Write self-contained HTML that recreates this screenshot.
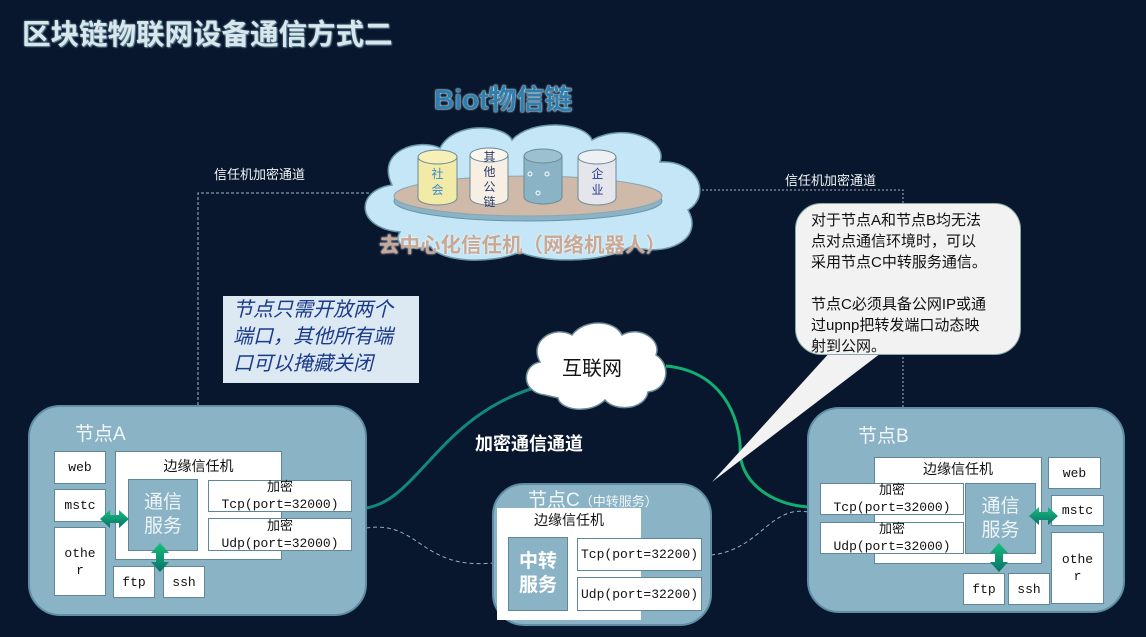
<!DOCTYPE html>
<html><head><meta charset="utf-8"><style>
*{margin:0;padding:0;box-sizing:border-box}
body{width:1146px;height:637px;background:#08172e;position:relative;overflow:hidden;font-family:"Liberation Sans","Noto Sans CJK SC",sans-serif}
.a{position:absolute}
.b{position:absolute;background:#fff;border:1px solid #5f8799;color:#111;text-align:center;font-family:"Liberation Mono","Noto Sans CJK SC",monospace;font-size:13px;display:flex;flex-direction:column;align-items:center;justify-content:center;line-height:17px}
.node{position:absolute;background:#8bb3c6;border:2px solid #5e8da4;border-radius:32px}
.svc{position:absolute;background:#8bb3c6;border:1px solid #5f8799;color:#eef4f7;font-size:19px;text-align:center;line-height:24px;display:flex;align-items:center;justify-content:center}
.lbl{position:absolute;color:#f2f6f8;font-size:19px}
</style></head><body>
<div class="a" style="left:22px;top:12px;font-size:28.5px;font-weight:bold;color:#d9e6ec;text-shadow:0 0 2px #6d95a8,1px 1px 1px #5a7f90">区块链物联网设备通信方式二</div>

<svg class="a" style="left:0;top:0" width="1146" height="637">
<path d="M198 405 V193 H370" stroke="#9fb8c6" stroke-dasharray="3,2" fill="none"/>
<path d="M690 190 H903 V408" stroke="#9fb8c6" stroke-dasharray="2,2" fill="none"/>
<path d="M366 508 C420 500 440 410 548 384" stroke="#0f8a7a" stroke-width="3" fill="none"/>
<path d="M666 366 C730 372 742 430 740 455 C745 490 780 505 808 507" stroke="#12b070" stroke-width="3" fill="none"/>
<path d="M366 528 C420 520 420 570 493 563" stroke="#8fb0c2" stroke-dasharray="4,3" fill="none"/>
<path d="M711 555 C760 550 770 505 808 512" stroke="#8fb0c2" stroke-dasharray="4,3" fill="none"/>
<path d="M400 232 C355 228 355 190 392 185 C375 150 420 138 440 148 C455 120 505 125 512 140 C532 118 585 122 592 140 C625 122 668 140 660 162 C698 160 712 195 688 210 C705 240 665 258 632 246 C600 265 540 262 520 252 C490 265 440 262 430 246 C408 252 392 244 400 232 Z" fill="#c4e6f6" stroke="#6a96aa" stroke-width="1.5"/>
<ellipse cx="528" cy="201" rx="134" ry="20" fill="#8ab3c6" stroke="#6a96aa"/>
<ellipse cx="528" cy="196" rx="134" ry="20" fill="#cfb9a9" stroke="#8ba6b0"/>
<g stroke="#6a8a98" stroke-width="1">
<path d="M418 157 V198 A19.5 7 0 0 0 457 198 V157" fill="#f2eba8"/><ellipse cx="437.5" cy="157" rx="19.5" ry="7" fill="#f6f0b8"/>
<path d="M470 155 V198 A19 7 0 0 0 508 198 V155" fill="#f7efe4"/><ellipse cx="489" cy="155" rx="19" ry="7" fill="#fbf6ee"/>
<path d="M524 156 V197 A19 7 0 0 0 562 197 V156" fill="#8ab3c6"/><ellipse cx="543" cy="156" rx="19" ry="7" fill="#9cc0d0"/>
<path d="M578 157 V198 A19 7 0 0 0 616 198 V157" fill="#e4e6ec"/><ellipse cx="597" cy="157" rx="19" ry="7" fill="#eef0f4"/>
</g>
<circle cx="530" cy="174" r="2" fill="none" stroke="#fff"/><circle cx="547" cy="174" r="2" fill="none" stroke="#fff"/><circle cx="538" cy="193" r="2" fill="none" stroke="#fff"/>
<path d="M545 395 C520 392 522 365 540 362 C528 340 555 325 572 335 C585 318 615 320 622 335 C640 325 662 340 656 355 C672 365 668 390 648 392 C645 410 615 412 605 400 C590 415 560 410 558 398 Z" fill="#fff" stroke="#6a8a98" stroke-width="1.5"/>
<path d="M832 350 L712 482 L885 350 Z" fill="#f2f2f2"/>
</svg>
<div class="a" style="left:434px;top:78px;font-size:28px;font-weight:bold;color:#2b80b0;text-shadow:0 0 2px #fff,0 0 1px #fff">Biot物信链</div>
<div class="a" style="left:430px;top:166px;width:15px;font-size:12px;color:#3a8acb;line-height:16px;text-align:center">社会</div>
<div class="a" style="left:482px;top:150px;width:15px;font-size:12px;color:#2a3a6a;line-height:15px;text-align:center">其他公链</div>
<div class="a" style="left:590px;top:166px;width:15px;font-size:12px;color:#2a3a8a;line-height:16px;text-align:center">企业</div>
<div class="a" style="left:379px;top:228px;font-size:20.5px;font-weight:bold;color:#c9a896;text-shadow:0 0 2px #fff">去中心化信任机（网络机器人）</div>
<div class="a" style="left:214px;top:164px;font-size:13px;color:#f0f4f6">信任机加密通道</div>
<div class="a" style="left:785px;top:170px;font-size:13px;color:#f0f4f6">信任机加密通道</div>
<div class="a" style="left:223px;top:296px;width:196px;height:87px;background:#dce8f2;color:#1a3a8a;font-style:italic;font-size:20px;line-height:27px;padding:1px 0 0 10px">节点只需开放两个<br>端口，其他所有端<br>口可以掩藏关闭</div>
<div class="a" style="left:795px;top:203px;width:226px;height:152px;background:#f2f2f2;border:1.5px solid #8aa;border-radius:26px;font-size:15px;line-height:21px;color:#111;padding:6px 0 0 15px;white-space:nowrap">对于节点A和节点B均无法<br>点对点通信环境时，可以<br>采用节点C中转服务通信。<br><br>节点C必须具备公网IP或通<br>过upnp把转发端口动态映<br>射到公网。</div>
<div class="a" style="left:562px;top:352px;font-size:20px;color:#111">互联网</div>
<div class="a" style="left:475px;top:430px;font-size:18px;font-weight:bold;color:#fff">加密通信通道</div>

<div class="node" style="left:28px;top:405px;width:339px;height:211px"></div>
<div class="lbl" style="left:75px;top:419px">节点A</div>
<div class="b" style="left:54px;top:451px;width:52px;height:33px">web</div>
<div class="b" style="left:54px;top:489px;width:52px;height:33px">mstc</div>
<div class="b" style="left:54px;top:527px;width:52px;height:69px">othe<br>r</div>
<div class="b" style="left:115px;top:451px;width:167px;height:109px;justify-content:flex-start;padding-top:6px;font-family:'Liberation Sans','Noto Sans CJK SC',sans-serif;font-size:14px">边缘信任机</div>
<div class="svc" style="left:128px;top:479px;width:70px;height:72px">通信<br>服务</div>
<div class="b" style="left:208px;top:480px;width:144px;height:32px">加密<br>Tcp(port=32000)</div>
<div class="b" style="left:208px;top:518px;width:144px;height:33px">加密<br>Udp(port=32000)</div>
<div class="b" style="left:113px;top:566px;width:42px;height:32px">ftp</div>
<div class="b" style="left:163px;top:566px;width:42px;height:32px">ssh</div>

<div class="node" style="left:492px;top:483px;width:220px;height:143px"></div>
<div class="lbl" style="left:528px;top:485px">节点C<span style="font-size:13px">（中转服务）</span></div>
<div class="b" style="left:497px;top:508px;width:144px;height:112px;justify-content:flex-start;padding-top:4px;font-family:'Liberation Sans','Noto Sans CJK SC',sans-serif;font-size:14px;border:none">边缘信任机</div>
<div class="svc" style="left:508px;top:537px;width:60px;height:74px;font-weight:bold;color:#fff">中转<br>服务</div>
<div class="b" style="left:577px;top:538px;width:125px;height:33px">Tcp(port=32200)</div>
<div class="b" style="left:577px;top:577px;width:125px;height:34px">Udp(port=32200)</div>

<div class="node" style="left:807px;top:407px;width:318px;height:206px"></div>
<div class="lbl" style="left:858px;top:421px">节点B</div>
<div class="b" style="left:874px;top:457px;width:168px;height:107px;justify-content:flex-start;padding-top:3px;font-family:'Liberation Sans','Noto Sans CJK SC',sans-serif;font-size:14px">边缘信任机</div>
<div class="b" style="left:820px;top:483px;width:144px;height:32px">加密<br>Tcp(port=32000)</div>
<div class="b" style="left:820px;top:522px;width:144px;height:32px">加密<br>Udp(port=32000)</div>
<div class="svc" style="left:965px;top:483px;width:71px;height:71px">通信<br>服务</div>
<div class="b" style="left:1048px;top:457px;width:53px;height:32px">web</div>
<div class="b" style="left:1051px;top:495px;width:53px;height:31px">mstc</div>
<div class="b" style="left:1051px;top:532px;width:53px;height:72px">othe<br>r</div>
<div class="b" style="left:963px;top:573px;width:42px;height:32px">ftp</div>
<div class="b" style="left:1008px;top:573px;width:42px;height:32px">ssh</div>

<svg class="a" style="left:0;top:0;pointer-events:none" width="1146" height="637">
<defs><linearGradient id="ga" x1="0" y1="0" x2="0" y2="1"><stop offset="0" stop-color="#14c07a"/><stop offset="1" stop-color="#0b6f6a"/></linearGradient></defs>
<g fill="url(#ga)">
<path d="M100 519 L110 510 V515 H119 V510 L129 519 L119 528 V523 H110 V528 Z"/>
<path d="M160 543 L169 553 H164 V562 H169 L160 572 L151 562 H156 V553 H151 Z"/>
<path d="M1029 516 L1039 507 V512 H1048 V507 L1058 516 L1048 525 V520 H1039 V525 Z"/>
<path d="M999 543 L1008 553 H1003 V562 H1008 L999 572 L990 562 H995 V553 H990 Z"/>
</g>
</svg>
</body></html>
